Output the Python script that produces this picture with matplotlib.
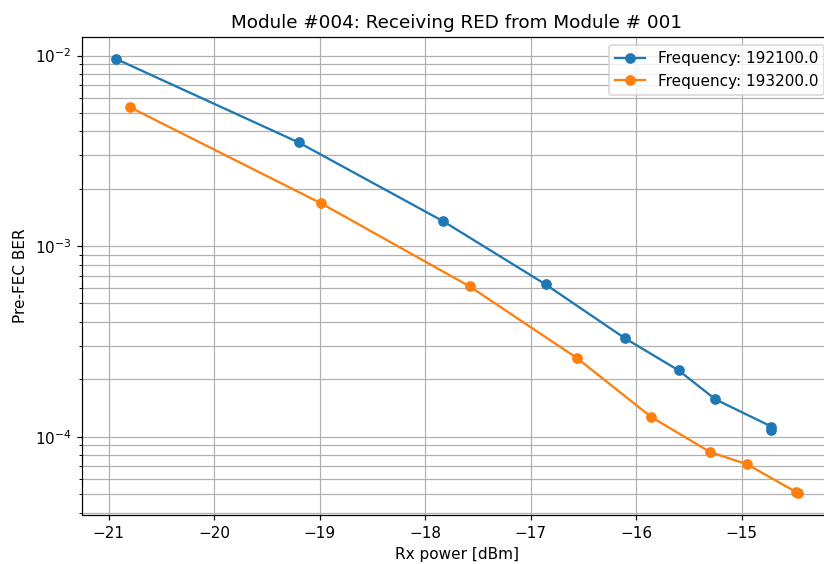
import matplotlib
matplotlib.use("Agg")
import matplotlib.pyplot as plt

# Rx power [dBm] and pre-FEC BER per frequency
rx_192100 = [-20.93, -19.20, -17.83, -16.86, -16.11, -15.60, -15.25, -14.72, -14.72]
ber_192100 = [9.6e-3, 3.5e-3, 1.35e-3, 6.3e-4, 3.29e-4, 2.23e-4, 1.57e-4, 1.13e-4, 1.08e-4]

rx_193200 = [-20.80, -18.99, -17.58, -16.56, -15.86, -15.30, -14.95, -14.49, -14.47]
ber_193200 = [5.36e-3, 1.68e-3, 6.15e-4, 2.58e-4, 1.27e-4, 8.3e-5, 7.16e-5, 5.14e-5, 5.05e-5]

labels = ["Frequency: 192100.0", "Frequency: 193200.0"]

# render at a slightly larger scale to match text/marker sizes
fig = plt.figure(figsize=(824 / 110, 564 / 110), dpi=110)
ax = fig.add_axes([0.0995, 0.087, 0.910, 0.847])

ax.plot(rx_192100, ber_192100, marker='o', color='tab:blue', label=labels[0])
ax.plot(rx_193200, ber_193200, marker='o', color='tab:orange', label=labels[1])
ax.set_yscale('log')
ax.set_xlabel("Rx power [dBm]")
ax.set_ylabel("Pre-FEC BER")
ax.set_title("Module #004: Receiving RED from Module # 001")
ax.grid(True, which='both')
ax.legend(loc='upper right')

fig.savefig("out.png", dpi=110)
